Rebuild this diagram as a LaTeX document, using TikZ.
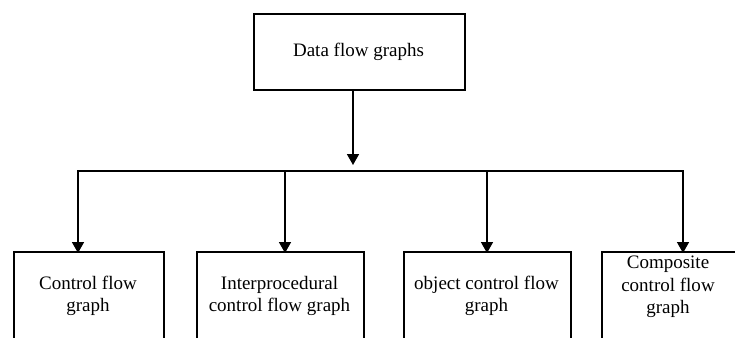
\documentclass[tikz,border=0pt]{standalone}
\usepackage{fontspec}
\setmainfont{Liberation Serif}
\usetikzlibrary{arrows.meta}
\begin{document}
\begin{tikzpicture}[x=1pt,y=-1pt,
  line width=1.6pt,
  boxstyle/.style={draw=black,line width=1.6pt,rectangle,inner sep=0pt,anchor=north west},
  lbl/.style={align=center,inner sep=0pt,font=\fontsize{19}{22.5}\selectfont},
  arr/.style={-{Triangle[width=12pt,length=11pt]}}]
\useasboundingbox (0,0) rectangle (735,337);
\clip (0,0) rectangle (735,337);
\node[boxstyle,minimum width=211pt,minimum height=76pt] (top) at (253,13) {};
\node[lbl] (toptxt) at (358.5,52) {Data flow graphs};
\node[boxstyle,minimum width=150pt,minimum height=110pt] (b1) at (13,251) {};
\node[boxstyle,minimum width=167pt,minimum height=110pt] (b2) at (196,251) {};
\node[boxstyle,minimum width=167pt,minimum height=110pt] (b3) at (403,251) {};
\node[boxstyle,minimum width=160pt,minimum height=110pt] (b4) at (601,251) {};
\node[lbl] (t1) at (88,296) {Control flow\\graph};
\node[lbl] (t2) at (279.5,296) {Interprocedural\\control flow graph};
\node[lbl] (t3) at (486.5,296) {object control flow\\graph};
\node[lbl] (t4) at (668,287) {Composite\\control flow\\graph};
\coordinate (a0) at (353,89);
\coordinate (a0end) at (353,165);
\coordinate (a1) at (78,171);
\coordinate (a2) at (285,171);
\coordinate (a3) at (487,171);
\coordinate (a4) at (683,171);
\draw[arr] (a0 |- top.south) -- (a0end);
\draw[line cap=rect] (a1) -- (a4);
\draw[arr] (a1) -- ([yshift=-2pt]a1 |- b1.north);
\draw[arr] (a2) -- ([yshift=-2pt]a2 |- b2.north);
\draw[arr] (a3) -- ([yshift=-2pt]a3 |- b3.north);
\draw[arr] (a4) -- ([yshift=-2pt]a4 |- b4.north);
\end{tikzpicture}
\end{document}
